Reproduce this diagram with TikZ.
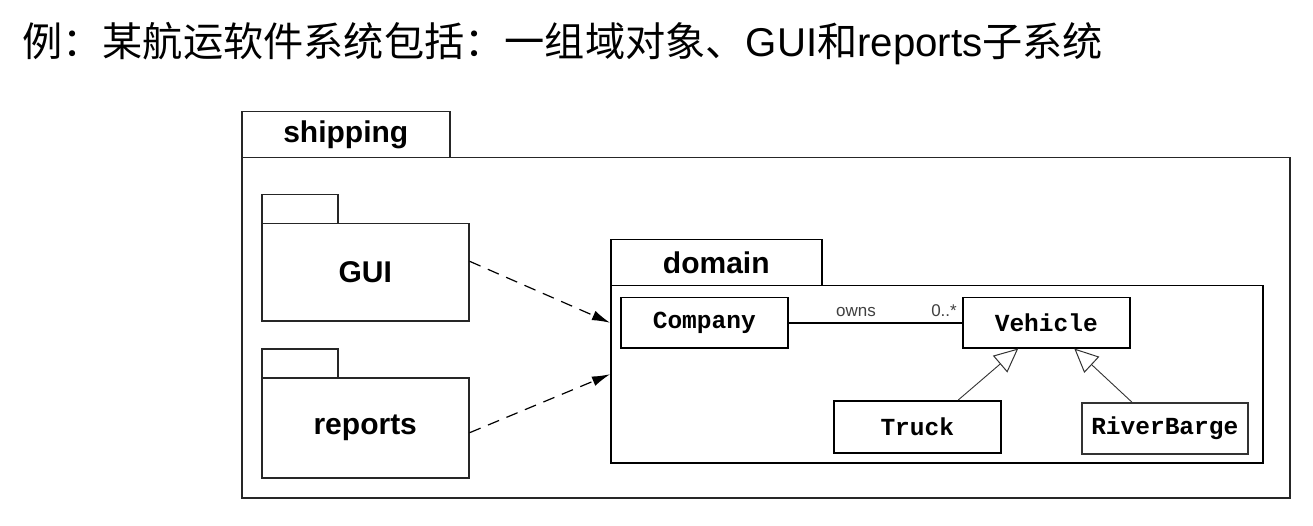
\documentclass[tikz,border=0pt]{standalone}
\usepackage{fontspec}
\setmainfont{Liberation Sans}
\newfontfamily\cjk{Noto Sans CJK SC}
\newfontfamily\clsmono{Liberation Mono}
\usetikzlibrary{arrows.meta}
\begin{document}
\begin{tikzpicture}[x=1pt,y=-1pt,
  pkgbox/.style={draw=black!85, line width=1.5pt, inner sep=0pt, anchor=north west},
  pkglabel/.style={font=\fontsize{30}{34}\selectfont\bfseries},
  clsbox/.style={draw=black, line width=1.5pt, inner sep=0pt, anchor=north west,
     font=\fontsize{24.5}{28}\selectfont\clsmono\bfseries},
  deparrow/.style={line width=1.2pt, dash pattern=on 12pt off 8pt, -{Latex[length=18pt,width=10pt]}},
  genarrow/.style={line width=0.9pt, draw=black!80, -{Triangle[open,length=24pt,width=22pt,line width=1pt]}},
  assoc/.style={line width=1.5pt},
  smalllabel/.style={font=\fontsize{17}{19}\selectfont, text=black!75, inner sep=0pt}
]
\useasboundingbox (0,0) rectangle (1313,526);
\fill[white] (0,0) rectangle (1313,526);

% title
\node[anchor=base west, inner sep=0pt, font=\fontsize{40.2}{46}\selectfont] (title) at (22,57)
  {{\cjk 例：某航运软件系统包括：一组域对象、}GUI{\cjk 和}reports{\cjk 子系统}};

% shipping package
\node[pkgbox, minimum width=208pt, minimum height=46pt] (shiptab) at (241,111) {};
\node[pkgbox, minimum width=1048pt, minimum height=340pt] (shipbody) at (241,157) {};
\node[pkglabel] (shiplabel) at (shiptab.center) {shipping};

% GUI package
\node[pkgbox, minimum width=76pt, minimum height=29pt] (guitab) at (261,194) {};
\node[pkgbox, minimum width=207pt, minimum height=97pt, pkglabel] (gui) at (261,223) {GUI};

% reports package
\node[pkgbox, minimum width=76pt, minimum height=29pt] (reptab) at (261,348) {};
\node[pkgbox, minimum width=207pt, minimum height=100pt, pkglabel] (reports) at (261,377) {reports};

% domain package
\node[pkgbox, draw=black, minimum width=211pt, minimum height=46pt, pkglabel] (domtab) at (610,239) {domain};
\node[pkgbox, draw=black, minimum width=652pt, minimum height=177pt] (domain) at (610,285) {};

% classes
\node[clsbox, minimum width=167pt, minimum height=50pt] (company) at (620,297) {Company};
\node[clsbox, minimum width=167pt, minimum height=50pt] (vehicle) at (962,297) {Vehicle};
\node[clsbox, minimum width=167pt, minimum height=52pt] (truck) at (833,400) {Truck};
\node[clsbox, minimum width=166pt, minimum height=51pt, draw=black!80] (barge) at (1081,402) {RiverBarge};

% association
\draw[assoc] (company.east) -- (vehicle.west);
\node[smalllabel] (owns) at (856,312) {owns};
\node[smalllabel] (mult) at (944,311) {0..*};

% generalizations
\draw[genarrow] ([xshift=41pt]truck.north) -- ([xshift=-28pt]vehicle.south);
\draw[genarrow] ([xshift=-33pt]barge.north) -- ([xshift=28pt]vehicle.south);

% dependencies
\draw[deparrow] ([yshift=11pt]gui.east) -- ([yshift=51.5pt]domain.west);
\draw[deparrow] ([yshift=-5pt]reports.east) -- ([yshift=0pt]domain.west);
\end{tikzpicture}
\end{document}
